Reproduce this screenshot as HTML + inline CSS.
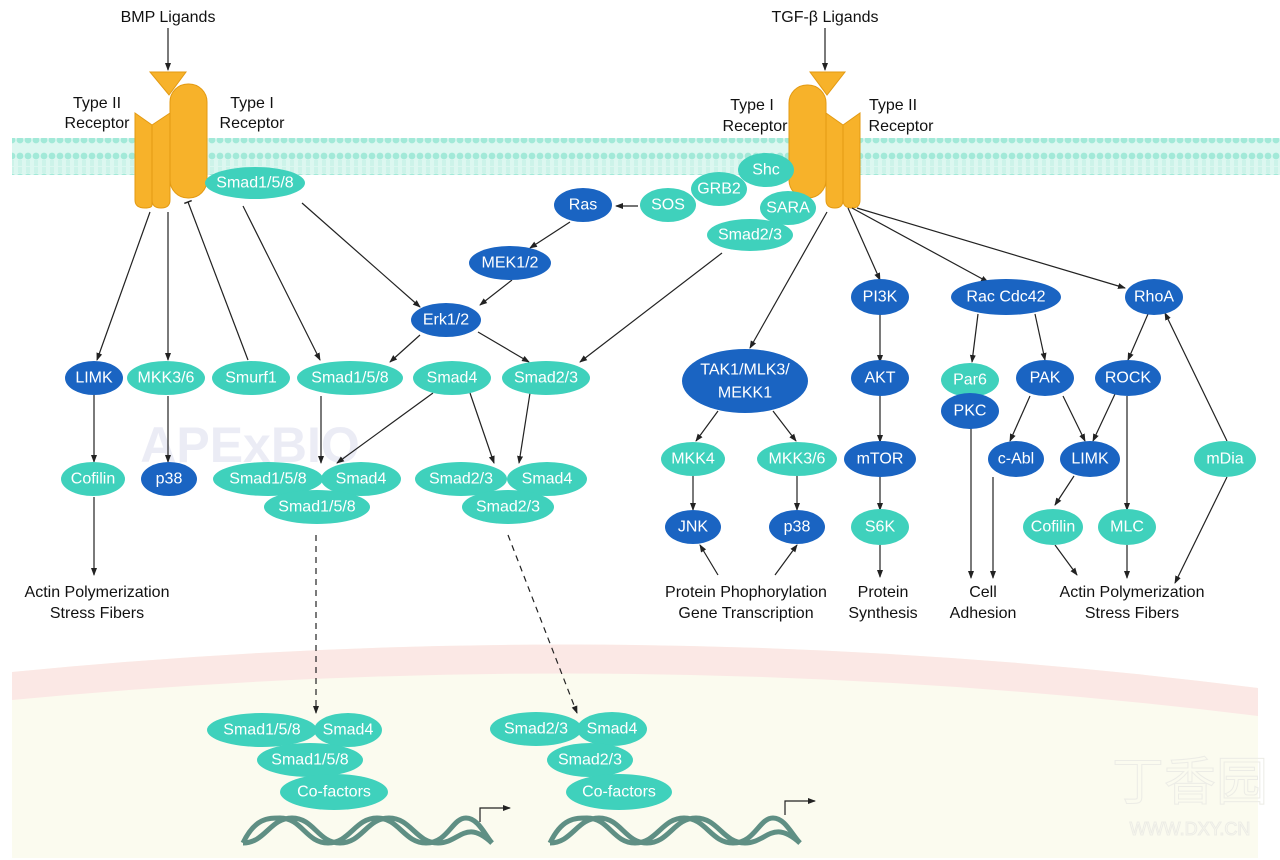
<!DOCTYPE html>
<html><head><meta charset="utf-8"><style>
html,body{margin:0;padding:0;background:#fff;}
svg{display:block;font-family:"Liberation Sans",Arial,sans-serif;}
.n text{fill:#fff;font-size:16px;text-anchor:middle;dominant-baseline:central;}
.L{fill:#3fd1bc}.D{fill:#1a64c2}
.lbl{font-size:16px;fill:#111;text-anchor:middle;}
.a{stroke:#222;stroke-width:1.2;fill:none;marker-end:url(#ar);}
</style></head><body>
<svg width="1280" height="860" viewBox="0 0 1280 860" xmlns="http://www.w3.org/2000/svg">
<defs>
<marker id="ar" markerWidth="8" markerHeight="8" refX="7" refY="4" orient="auto" markerUnits="userSpaceOnUse"><path d="M0,1 L8,4 L0,7 Z" fill="#222"/></marker>
<marker id="tb" markerWidth="8" markerHeight="8" refX="4" refY="4" orient="auto" markerUnits="userSpaceOnUse"><path d="M4,0 L4,8" stroke="#222" stroke-width="1.5"/></marker>
<pattern id="mem" width="8" height="37" patternUnits="userSpaceOnUse">
<rect width="8" height="37" fill="#dcf7f0"/>
<circle cx="4" cy="8" r="3.4" fill="#a2e9d8"/><circle cx="4" cy="29" r="3.4" fill="#a2e9d8"/>
<path d="M3,12 L3,18 M5,12 L5,18 M3,19 L3,25 M5,19 L5,25" stroke="#b4eddf" stroke-width="0.8"/>
</pattern>
</defs>
<!-- nucleus -->
<path d="M12,672 Q640,610 1258,688 L1258,858 L12,858 Z" fill="#fbfbef"/>
<path d="M12,672 Q640,610 1258,688 L1258,716 Q640,640 12,700 Z" fill="#fbe8e5"/>
<!-- membrane -->
<rect x="12" y="138" width="1268" height="37" fill="url(#mem)"/>
<!-- watermarks -->
<text x="250" y="462" font-size="50" font-weight="bold" fill="#dfe0f0" text-anchor="middle" opacity="0.6">APExBIO</text>
<text x="1190" y="800" font-size="52" fill="none" stroke="#ececE6" text-anchor="middle" font-family="Noto Sans CJK SC, sans-serif">丁香园</text>
<text x="1190" y="835" font-size="18" fill="none" stroke="#ececE6" text-anchor="middle">WWW.DXY.CN</text>

<!-- BMP receptor -->
<rect x="170" y="84" width="37" height="114" rx="18" fill="#f7b22a" stroke="#e39a12"/>
<path d="M135,113 L152,125 L152,205 Q152,208 145,208 Q135,208 135,200 Z" fill="#f7b22a" stroke="#e39a12"/>
<path d="M152,125 L170,113 L170,200 Q170,208 161,208 Q152,208 152,200 Z" fill="#f7b22a" stroke="#e39a12"/>
<path d="M150,72 L186,72 L169,95 Z" fill="#f7b22a" stroke="#e39a12"/>
<!-- TGF receptor -->
<rect x="789" y="85" width="37" height="113" rx="18" fill="#f7b22a" stroke="#e39a12"/>
<path d="M826,113 L843,125 L843,200 Q843,208 835,208 Q826,208 826,200 Z" fill="#f7b22a" stroke="#e39a12"/>
<path d="M843,125 L860,113 L860,200 Q860,208 852,208 Q843,208 843,200 Z" fill="#f7b22a" stroke="#e39a12"/>
<path d="M810,72 L845,72 L827,95 Z" fill="#f7b22a" stroke="#e39a12"/>

<!-- labels -->
<text class="lbl" x="168" y="22">BMP Ligands</text>
<text class="lbl" x="825" y="22">TGF-β Ligands</text>
<text class="lbl" x="97" y="108">Type II</text><text class="lbl" x="97" y="128">Receptor</text>
<text class="lbl" x="252" y="108">Type I</text><text class="lbl" x="252" y="128">Receptor</text>
<text class="lbl" x="752" y="110">Type I</text><text class="lbl" x="755" y="131">Receptor</text>
<text class="lbl" x="893" y="110">Type II</text><text class="lbl" x="901" y="131">Receptor</text>
<text class="lbl" x="97" y="597">Actin Polymerization</text><text class="lbl" x="97" y="618">Stress Fibers</text>
<text class="lbl" x="746" y="597">Protein Phophorylation</text><text class="lbl" x="746" y="618">Gene Transcription</text>
<text class="lbl" x="883" y="597">Protein</text><text class="lbl" x="883" y="618">Synthesis</text>
<text class="lbl" x="983" y="597">Cell</text><text class="lbl" x="983" y="618">Adhesion</text>
<text class="lbl" x="1132" y="597">Actin Polymerization</text><text class="lbl" x="1132" y="618">Stress Fibers</text>

<!-- arrows -->
<g>
<path class="a" d="M168,28 V70"/><path class="a" d="M825,28 V70"/>
<path class="a" d="M150,212 L97,360"/>
<path class="a" d="M168,212 V360"/>
<path d="M248,360 L188,202" stroke="#222" stroke-width="1.2" marker-end="url(#tb)"/>
<path class="a" d="M243,206 L320,360"/>
<path class="a" d="M302,203 L420,307"/>
<path class="a" d="M638,206 H616"/>
<path class="a" d="M570,222 L530,248"/>
<path class="a" d="M512,280 L480,305"/>
<path class="a" d="M420,335 L390,362"/>
<path class="a" d="M478,332 L529,362"/>
<path class="a" d="M722,253 L580,362"/>
<path class="a" d="M827,212 L750,348"/>
<path class="a" d="M848,208 L880,280"/>
<path class="a" d="M852,208 L988,282"/>
<path class="a" d="M857,208 L1125,288"/>
<path class="a" d="M94,395 V462"/>
<path class="a" d="M168,396 V462"/>
<path class="a" d="M321,396 V463"/>
<path class="a" d="M433,393 L337,463"/>
<path class="a" d="M470,393 L494,463"/>
<path class="a" d="M530,393 L519,463"/>
<path class="a" d="M94,497 V575"/>
<path class="a" d="M718,411 L696,441"/>
<path class="a" d="M773,411 L796,441"/>
<path class="a" d="M693,476 V510"/>
<path class="a" d="M797,476 V510"/>
<path class="a" d="M718,575 L700,545"/>
<path class="a" d="M775,575 L797,545"/>
<path class="a" d="M880,314 V362"/>
<path class="a" d="M880,396 V442"/>
<path class="a" d="M880,476 V510"/>
<path class="a" d="M880,545 V577"/>
<path class="a" d="M978,314 L972,362"/>
<path class="a" d="M1035,314 L1045,360"/>
<path class="a" d="M1030,396 L1010,441"/>
<path class="a" d="M1063,396 L1085,441"/>
<path class="a" d="M1115,394 L1093,441"/>
<path class="a" d="M1127,396 V510"/>
<path class="a" d="M1148,314 L1128,360"/>
<path class="a" d="M1227,441 L1165,313"/>
<path class="a" d="M1227,477 L1175,583"/>
<path class="a" d="M1074,476 L1055,505"/>
<path class="a" d="M1055,545 L1077,575"/>
<path class="a" d="M1127,545 V578"/>
<path class="a" d="M971,428 V578"/>
<path class="a" d="M993,477 V578"/>
<path class="a" d="M316,535 V713" stroke-dasharray="6,5"/>
<path class="a" d="M508,535 L577,713" stroke-dasharray="6,5"/>
<path class="a" d="M480,822 V808 H510"/>
<path class="a" d="M785,815 V801 H815"/>
</g>

<!-- DNA -->
<g stroke="#5f8f84" stroke-width="5" fill="none">
<path d="M243,843 C265,843 270,818 292,818 C314,818 318,843 340,843 C362,843 367,818 389,818 C411,818 416,843 438,843 C460,843 465,818 492,843"/>
<path d="M243,843 C255,818 268,818 280,818 C302,818 306,843 328,843 C350,843 355,818 377,818 C399,818 404,843 426,843 C448,843 452,818 466,818 C478,818 485,835 492,843"/>
<path d="M550,843 C572,843 577,818 599,818 C621,818 625,843 647,843 C669,843 674,818 696,818 C718,818 723,843 745,843 C767,843 772,818 800,843"/>
<path d="M550,843 C562,818 575,818 587,818 C609,818 613,843 635,843 C657,843 662,818 684,818 C706,818 711,843 733,843 C755,843 759,818 773,818 C785,818 792,835 800,843"/>
</g>

<!-- nodes -->
<g class="n">
<ellipse class="L" cx="255" cy="183" rx="50" ry="16"/><text x="255" y="183">Smad1/5/8</text>
<ellipse class="D" cx="583" cy="205" rx="29" ry="17"/><text x="583" y="205">Ras</text>
<ellipse class="L" cx="766" cy="170" rx="28" ry="17"/><text x="766" y="170">Shc</text>
<ellipse class="L" cx="719" cy="189" rx="28" ry="17"/><text x="719" y="189">GRB2</text>
<ellipse class="L" cx="668" cy="205" rx="28" ry="17"/><text x="668" y="205">SOS</text>
<ellipse class="L" cx="788" cy="208" rx="28" ry="17"/><text x="788" y="208">SARA</text>
<ellipse class="L" cx="750" cy="235" rx="43" ry="16"/><text x="750" y="235">Smad2/3</text>
<ellipse class="D" cx="510" cy="263" rx="41" ry="17"/><text x="510" y="263">MEK1/2</text>
<ellipse class="D" cx="446" cy="320" rx="35" ry="17"/><text x="446" y="320">Erk1/2</text>
<ellipse class="D" cx="94" cy="378" rx="29" ry="17"/><text x="94" y="378">LIMK</text>
<ellipse class="L" cx="166" cy="378" rx="39" ry="17"/><text x="166" y="378">MKK3/6</text>
<ellipse class="L" cx="251" cy="378" rx="39" ry="17"/><text x="251" y="378">Smurf1</text>
<ellipse class="L" cx="350" cy="378" rx="53" ry="17"/><text x="350" y="378">Smad1/5/8</text>
<ellipse class="L" cx="452" cy="378" rx="39" ry="17"/><text x="452" y="378">Smad4</text>
<ellipse class="L" cx="546" cy="378" rx="44" ry="17"/><text x="546" y="378">Smad2/3</text>
<ellipse class="L" cx="93" cy="479" rx="32" ry="17"/><text x="93" y="479">Cofilin</text>
<ellipse class="D" cx="169" cy="479" rx="28" ry="17"/><text x="169" y="479">p38</text>
<ellipse class="L" cx="268" cy="479" rx="55" ry="17"/><text x="268" y="479">Smad1/5/8</text>
<ellipse class="L" cx="361" cy="479" rx="40" ry="17"/><text x="361" y="479">Smad4</text>
<ellipse class="L" cx="317" cy="507" rx="53" ry="17"/><text x="317" y="507">Smad1/5/8</text>
<ellipse class="L" cx="461" cy="479" rx="46" ry="17"/><text x="461" y="479">Smad2/3</text>
<ellipse class="L" cx="547" cy="479" rx="40" ry="17"/><text x="547" y="479">Smad4</text>
<ellipse class="L" cx="508" cy="507" rx="46" ry="17"/><text x="508" y="507">Smad2/3</text>
<ellipse class="D" cx="745" cy="381" rx="63" ry="32"/><text x="745" y="370">TAK1/MLK3/</text><text x="745" y="393">MEKK1</text>
<ellipse class="L" cx="693" cy="459" rx="32" ry="17"/><text x="693" y="459">MKK4</text>
<ellipse class="L" cx="797" cy="459" rx="40" ry="17"/><text x="797" y="459">MKK3/6</text>
<ellipse class="D" cx="693" cy="527" rx="28" ry="17"/><text x="693" y="527">JNK</text>
<ellipse class="D" cx="797" cy="527" rx="28" ry="17"/><text x="797" y="527">p38</text>
<ellipse class="D" cx="880" cy="297" rx="29" ry="18"/><text x="880" y="297">PI3K</text>
<ellipse class="D" cx="880" cy="378" rx="29" ry="18"/><text x="880" y="378">AKT</text>
<ellipse class="D" cx="880" cy="459" rx="36" ry="18"/><text x="880" y="459">mTOR</text>
<ellipse class="L" cx="880" cy="527" rx="29" ry="18"/><text x="880" y="527">S6K</text>
<ellipse class="D" cx="1006" cy="297" rx="55" ry="18"/><text x="1006" y="297">Rac Cdc42</text>
<ellipse class="L" cx="970" cy="380" rx="29" ry="17"/><text x="970" y="380">Par6</text>
<ellipse class="D" cx="970" cy="411" rx="29" ry="18"/><text x="970" y="411">PKC</text>
<ellipse class="D" cx="1045" cy="378" rx="29" ry="18"/><text x="1045" y="378">PAK</text>
<ellipse class="D" cx="1128" cy="378" rx="33" ry="18"/><text x="1128" y="378">ROCK</text>
<ellipse class="D" cx="1154" cy="297" rx="29" ry="18"/><text x="1154" y="297">RhoA</text>
<ellipse class="D" cx="1016" cy="459" rx="28" ry="18"/><text x="1016" y="459">c-Abl</text>
<ellipse class="D" cx="1090" cy="459" rx="30" ry="18"/><text x="1090" y="459">LIMK</text>
<ellipse class="L" cx="1225" cy="459" rx="31" ry="18"/><text x="1225" y="459">mDia</text>
<ellipse class="L" cx="1053" cy="527" rx="30" ry="18"/><text x="1053" y="527">Cofilin</text>
<ellipse class="L" cx="1127" cy="527" rx="29" ry="18"/><text x="1127" y="527">MLC</text>
<ellipse class="L" cx="262" cy="730" rx="55" ry="17"/><text x="262" y="730">Smad1/5/8</text>
<ellipse class="L" cx="348" cy="730" rx="34" ry="17"/><text x="348" y="730">Smad4</text>
<ellipse class="L" cx="310" cy="760" rx="53" ry="17"/><text x="310" y="760">Smad1/5/8</text>
<ellipse class="L" cx="334" cy="792" rx="54" ry="18"/><text x="334" y="792">Co-factors</text>
<ellipse class="L" cx="536" cy="729" rx="46" ry="17"/><text x="536" y="729">Smad2/3</text>
<ellipse class="L" cx="612" cy="729" rx="35" ry="17"/><text x="612" y="729">Smad4</text>
<ellipse class="L" cx="590" cy="760" rx="43" ry="17"/><text x="590" y="760">Smad2/3</text>
<ellipse class="L" cx="619" cy="792" rx="53" ry="18"/><text x="619" y="792">Co-factors</text>
</g>
</svg>
</body></html>
